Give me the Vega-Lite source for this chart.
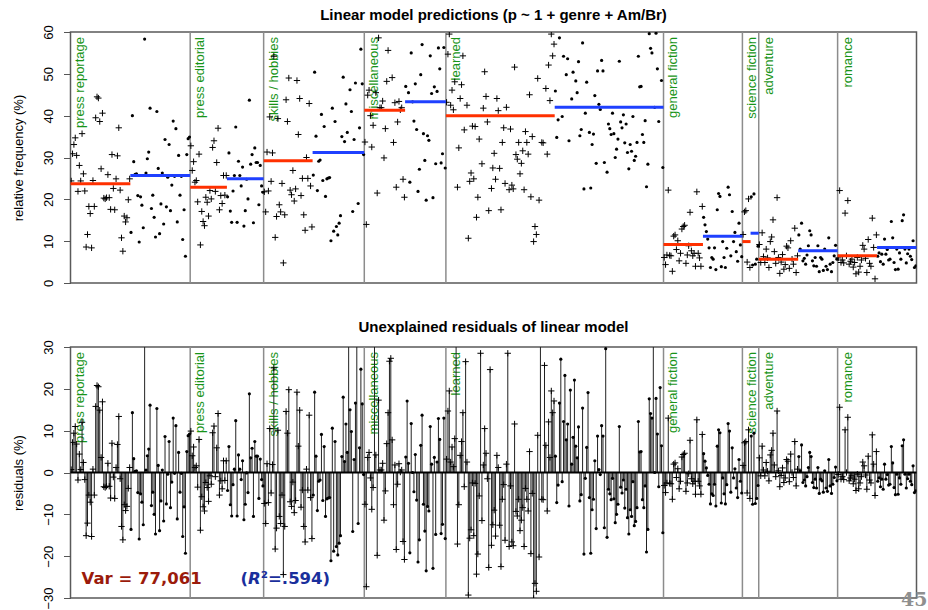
{
  "$schema": "https://vega.github.io/schema/vega-lite/v6.json",
  "background": "white",
  "padding": {"left": 11.5, "top": 7, "right": 0, "bottom": 0},
  "config": {
    "font": "Liberation Sans",
    "view": {"stroke": "#5a5a5a", "strokeWidth": 1.5},
    "title": {"font": "Liberation Sans", "fontSize": 15, "fontWeight": "bold", "color": "black", "anchor": "middle", "baseline": "alphabetic"},
    "axisY": {
      "labelAngle": 270, "labelAlign": "center", "labelBaseline": "alphabetic", "labelPadding": 11,
      "labelFontSize": 13, "labelColor": "black", "labelOverlap": false, "labelFlush": false,
      "tickSize": 7, "tickColor": "#555555", "tickWidth": 1, "domain": false, "grid": false,
      "titleFontSize": 13, "titleFontWeight": "normal", "titleColor": "black",
      "titleAngle": 270, "titleBaseline": "middle", "titleAlign": "center", "titleX": -52, "titleY": 125.5
    }
  },
  "datasets": {
    "genres": [
      {"g": "pr", "name": "press reportage", "fitAm": 23.7, "fitBr": 25.7},
      {"g": "pe", "name": "press editorial", "fitAm": 22.9, "fitBr": 24.9},
      {"g": "sk", "name": "skills / hobbies", "fitAm": 29.2, "fitBr": 31.2},
      {"g": "mi", "name": "miscellaneous", "fitAm": 41.3, "fitBr": 43.3},
      {"g": "le", "name": "learned", "fitAm": 40.0, "fitBr": 42.0},
      {"g": "gf", "name": "general fiction", "fitAm": 9.2, "fitBr": 11.2},
      {"g": "sf", "name": "science fiction", "fitAm": 9.9, "fitBr": 11.9},
      {"g": "ad", "name": "adventure", "fitAm": 5.7, "fitBr": 7.7},
      {"g": "ro", "name": "romance", "fitAm": 6.5, "fitBr": 8.5}
    ],
    "notes": [{"var": "Var = 77,061", "open": "(", "r": "R", "rest": "²=.594)", "page": "45"}],
    "texts": [
      {"i":1,"g":"pr","v":"Am","y":24.4},{"i":2,"g":"pr","v":"Am","y":30.9},{"i":3,"g":"pr","v":"Am","y":33.1},{"i":4,"g":"pr","v":"Am","y":34.7},{"i":5,"g":"pr","v":"Am","y":30.5},{"i":6,"g":"pr","v":"Am","y":21.9},{"i":7,"g":"pr","v":"Am","y":28.1},{"i":8,"g":"pr","v":"Am","y":24.4},{"i":9,"g":"pr","v":"Am","y":35.7},{"i":10,"g":"pr","v":"Am","y":26.1},
      {"i":11,"g":"pr","v":"Am","y":22.0},{"i":12,"g":"pr","v":"Am","y":8.6},{"i":13,"g":"pr","v":"Am","y":11.6},{"i":14,"g":"pr","v":"Am","y":18.3},{"i":15,"g":"pr","v":"Am","y":16.6},{"i":16,"g":"pr","v":"Am","y":8.4},{"i":17,"g":"pr","v":"Am","y":24.5},{"i":18,"g":"pr","v":"Am","y":18.3},{"i":19,"g":"pr","v":"Am","y":39.5},{"i":20,"g":"pr","v":"Am","y":44.5},
      {"i":21,"g":"pr","v":"Am","y":44.2},{"i":22,"g":"pr","v":"Am","y":38.6},{"i":23,"g":"pr","v":"Am","y":27.3},{"i":24,"g":"pr","v":"Am","y":40.6},{"i":25,"g":"pr","v":"Am","y":20.3},{"i":26,"g":"pr","v":"Am","y":20.1},{"i":27,"g":"pr","v":"Am","y":20.4},{"i":28,"g":"pr","v":"Am","y":25.9},{"i":29,"g":"pr","v":"Am","y":20.4},{"i":30,"g":"pr","v":"Am","y":17.6},
      {"i":31,"g":"pr","v":"Am","y":30.7},{"i":32,"g":"pr","v":"Am","y":22.6},{"i":33,"g":"pr","v":"Am","y":17.5},{"i":34,"g":"pr","v":"Am","y":24.9},{"i":35,"g":"pr","v":"Am","y":30.4},{"i":36,"g":"pr","v":"Am","y":37.1},{"i":37,"g":"pr","v":"Am","y":22.2},{"i":38,"g":"pr","v":"Am","y":10.8},{"i":39,"g":"pr","v":"Am","y":7.6},{"i":40,"g":"pr","v":"Am","y":16.0},
      {"i":41,"g":"pr","v":"Am","y":14.6},{"i":42,"g":"pr","v":"Am","y":15.6},{"i":43,"g":"pr","v":"Am","y":19.9},{"i":44,"g":"pr","v":"Am","y":24.9},
      {"i":45,"g":"pr","v":"Br","y":12.1},{"i":46,"g":"pr","v":"Br","y":40.0},{"i":47,"g":"pr","v":"Br","y":29.0},{"i":48,"g":"pr","v":"Br","y":26.0},{"i":49,"g":"pr","v":"Br","y":26.1},{"i":50,"g":"pr","v":"Br","y":20.9},{"i":51,"g":"pr","v":"Br","y":9.8},{"i":52,"g":"pr","v":"Br","y":20.6},{"i":53,"g":"pr","v":"Br","y":18.6},{"i":54,"g":"pr","v":"Br","y":13.2},
      {"i":55,"g":"pr","v":"Br","y":58.3},{"i":56,"g":"pr","v":"Br","y":26.3},{"i":57,"g":"pr","v":"Br","y":29.7},{"i":58,"g":"pr","v":"Br","y":31.3},{"i":59,"g":"pr","v":"Br","y":41.8},{"i":60,"g":"pr","v":"Br","y":17.8},{"i":61,"g":"pr","v":"Br","y":21.0},{"i":62,"g":"pr","v":"Br","y":15.7},{"i":63,"g":"pr","v":"Br","y":11.0},{"i":64,"g":"pr","v":"Br","y":41.0},
      {"i":65,"g":"pr","v":"Br","y":27.4},{"i":66,"g":"pr","v":"Br","y":11.8},{"i":67,"g":"pr","v":"Br","y":18.9},{"i":68,"g":"pr","v":"Br","y":26.3},{"i":69,"g":"pr","v":"Br","y":14.1},{"i":70,"g":"pr","v":"Br","y":34.3},{"i":71,"g":"pr","v":"Br","y":18.2},{"i":72,"g":"pr","v":"Br","y":25.3},{"i":73,"g":"pr","v":"Br","y":33.1},{"i":74,"g":"pr","v":"Br","y":17.3},
      {"i":75,"g":"pr","v":"Br","y":23.4},{"i":76,"g":"pr","v":"Br","y":38.7},{"i":77,"g":"pr","v":"Br","y":25.5},{"i":78,"g":"pr","v":"Br","y":36.9},{"i":79,"g":"pr","v":"Br","y":14.6},{"i":80,"g":"pr","v":"Br","y":30.5},{"i":81,"g":"pr","v":"Br","y":21.0},{"i":82,"g":"pr","v":"Br","y":25.5},{"i":83,"g":"pr","v":"Br","y":10.4},{"i":84,"g":"pr","v":"Br","y":17.5},
      {"i":85,"g":"pr","v":"Br","y":6.4},{"i":86,"g":"pr","v":"Br","y":30.7},{"i":87,"g":"pr","v":"Br","y":34.5},{"i":88,"g":"pr","v":"Br","y":34.9},
      {"i":89,"g":"pe","v":"Am","y":32.8},{"i":90,"g":"pe","v":"Am","y":26.9},{"i":91,"g":"pe","v":"Am","y":29.0},{"i":92,"g":"pe","v":"Am","y":24.1},{"i":93,"g":"pe","v":"Am","y":24.5},{"i":94,"g":"pe","v":"Am","y":19.4},{"i":95,"g":"pe","v":"Am","y":30.8},{"i":96,"g":"pe","v":"Am","y":9.1},{"i":97,"g":"pe","v":"Am","y":17.1},{"i":98,"g":"pe","v":"Am","y":14.7},
      {"i":99,"g":"pe","v":"Am","y":13.7},{"i":100,"g":"pe","v":"Am","y":20.5},{"i":101,"g":"pe","v":"Am","y":19.3},{"i":102,"g":"pe","v":"Am","y":16.0},{"i":103,"g":"pe","v":"Am","y":22.1},{"i":104,"g":"pe","v":"Am","y":20.1},{"i":105,"g":"pe","v":"Am","y":32.4},{"i":106,"g":"pe","v":"Am","y":34.0},{"i":107,"g":"pe","v":"Am","y":21.9},{"i":108,"g":"pe","v":"Am","y":28.8},
      {"i":109,"g":"pe","v":"Am","y":37.0},{"i":110,"g":"pe","v":"Am","y":17.5},{"i":111,"g":"pe","v":"Am","y":20.9},{"i":112,"g":"pe","v":"Am","y":19.0},{"i":113,"g":"pe","v":"Am","y":25.7},{"i":114,"g":"pe","v":"Am","y":21.0},{"i":115,"g":"pe","v":"Am","y":25.7},
      {"i":116,"g":"pe","v":"Br","y":20.6},{"i":117,"g":"pe","v":"Br","y":31.1},{"i":118,"g":"pe","v":"Br","y":17.2},{"i":119,"g":"pe","v":"Br","y":14.5},{"i":120,"g":"pe","v":"Br","y":22.0},{"i":121,"g":"pe","v":"Br","y":25.7},{"i":122,"g":"pe","v":"Br","y":37.3},{"i":123,"g":"pe","v":"Br","y":14.5},{"i":124,"g":"pe","v":"Br","y":29.1},{"i":125,"g":"pe","v":"Br","y":25.7},
      {"i":126,"g":"pe","v":"Br","y":23.2},{"i":127,"g":"pe","v":"Br","y":27.7},{"i":128,"g":"pe","v":"Br","y":13.6},{"i":129,"g":"pe","v":"Br","y":17.3},{"i":130,"g":"pe","v":"Br","y":24.8},{"i":131,"g":"pe","v":"Br","y":20.1},{"i":132,"g":"pe","v":"Br","y":43.7},{"i":133,"g":"pe","v":"Br","y":28.4},{"i":134,"g":"pe","v":"Br","y":30.7},{"i":135,"g":"pe","v":"Br","y":14.4},
      {"i":136,"g":"pe","v":"Br","y":32.3},{"i":137,"g":"pe","v":"Br","y":28.8},{"i":138,"g":"pe","v":"Br","y":28.8},{"i":139,"g":"pe","v":"Br","y":18.7},{"i":140,"g":"pe","v":"Br","y":28.1},{"i":141,"g":"pe","v":"Br","y":23.2},{"i":142,"g":"pe","v":"Br","y":21.7},
      {"i":143,"g":"sk","v":"Am","y":21.8},{"i":144,"g":"sk","v":"Am","y":17.0},{"i":145,"g":"sk","v":"Am","y":31.3},{"i":146,"g":"sk","v":"Am","y":22.0},{"i":147,"g":"sk","v":"Am","y":39.7},{"i":148,"g":"sk","v":"Am","y":24.3},{"i":149,"g":"sk","v":"Am","y":31.1},{"i":150,"g":"sk","v":"Am","y":54.2},{"i":151,"g":"sk","v":"Am","y":10.9},{"i":152,"g":"sk","v":"Am","y":15.9},
      {"i":153,"g":"sk","v":"Am","y":39.3},{"i":154,"g":"sk","v":"Am","y":18.7},{"i":155,"g":"sk","v":"Am","y":17.0},{"i":156,"g":"sk","v":"Am","y":23.8},{"i":157,"g":"sk","v":"Am","y":4.8},{"i":158,"g":"sk","v":"Am","y":16.3},{"i":159,"g":"sk","v":"Am","y":43.8},{"i":160,"g":"sk","v":"Am","y":38.6},{"i":161,"g":"sk","v":"Am","y":49.0},{"i":162,"g":"sk","v":"Am","y":22.2},
      {"i":163,"g":"sk","v":"Am","y":21.1},{"i":164,"g":"sk","v":"Am","y":26.9},{"i":165,"g":"sk","v":"Am","y":19.6},{"i":166,"g":"sk","v":"Am","y":22.5},{"i":167,"g":"sk","v":"Am","y":48.4},{"i":168,"g":"sk","v":"Am","y":35.5},{"i":169,"g":"sk","v":"Am","y":44.1},{"i":170,"g":"sk","v":"Am","y":20.9},{"i":171,"g":"sk","v":"Am","y":25.0},{"i":172,"g":"sk","v":"Am","y":16.3},
      {"i":173,"g":"sk","v":"Am","y":12.6},{"i":174,"g":"sk","v":"Am","y":30.0},{"i":175,"g":"sk","v":"Am","y":25.0},{"i":176,"g":"sk","v":"Am","y":42.9},{"i":177,"g":"sk","v":"Am","y":23.2},{"i":178,"g":"sk","v":"Am","y":13.4},
      {"i":179,"g":"sk","v":"Br","y":25.8},{"i":180,"g":"sk","v":"Br","y":50.4},{"i":181,"g":"sk","v":"Br","y":35.1},{"i":182,"g":"sk","v":"Br","y":22.1},{"i":183,"g":"sk","v":"Br","y":29.1},{"i":184,"g":"sk","v":"Br","y":29.4},{"i":185,"g":"sk","v":"Br","y":40.3},{"i":186,"g":"sk","v":"Br","y":24.5},{"i":187,"g":"sk","v":"Br","y":37.4},{"i":188,"g":"sk","v":"Br","y":20.7},
      {"i":189,"g":"sk","v":"Br","y":24.9},{"i":190,"g":"sk","v":"Br","y":25.1},{"i":191,"g":"sk","v":"Br","y":25.2},{"i":192,"g":"sk","v":"Br","y":10.1},{"i":193,"g":"sk","v":"Br","y":41.8},{"i":194,"g":"sk","v":"Br","y":12.4},{"i":195,"g":"sk","v":"Br","y":38.6},{"i":196,"g":"sk","v":"Br","y":13.5},{"i":197,"g":"sk","v":"Br","y":11.5},{"i":198,"g":"sk","v":"Br","y":14.3},
      {"i":199,"g":"sk","v":"Br","y":16.1},{"i":200,"g":"sk","v":"Br","y":35.0},{"i":201,"g":"sk","v":"Br","y":49.2},{"i":202,"g":"sk","v":"Br","y":33.8},{"i":203,"g":"sk","v":"Br","y":42.8},{"i":204,"g":"sk","v":"Br","y":36.0},{"i":205,"g":"sk","v":"Br","y":64.0},{"i":206,"g":"sk","v":"Br","y":46.2},{"i":207,"g":"sk","v":"Br","y":41.0},{"i":208,"g":"sk","v":"Br","y":17.1},
      {"i":209,"g":"sk","v":"Br","y":34.3},{"i":210,"g":"sk","v":"Br","y":47.8},{"i":211,"g":"sk","v":"Br","y":66.0},{"i":212,"g":"sk","v":"Br","y":19.0},{"i":213,"g":"sk","v":"Br","y":37.1},{"i":214,"g":"sk","v":"Br","y":55.9},{"i":215,"g":"sk","v":"Br","y":47.6},{"i":216,"g":"sk","v":"Br","y":30.7},
      {"i":217,"g":"mi","v":"Am","y":33.7},{"i":218,"g":"mi","v":"Am","y":14.0},{"i":219,"g":"mi","v":"Am","y":44.9},{"i":220,"g":"mi","v":"Am","y":46.1},{"i":221,"g":"mi","v":"Am","y":40.0},{"i":222,"g":"mi","v":"Am","y":32.5},{"i":223,"g":"mi","v":"Am","y":37.7},{"i":224,"g":"mi","v":"Am","y":72.0},{"i":225,"g":"mi","v":"Am","y":45.5},{"i":226,"g":"mi","v":"Am","y":21.5},
      {"i":227,"g":"mi","v":"Am","y":58.6},{"i":228,"g":"mi","v":"Am","y":41.9},{"i":229,"g":"mi","v":"Am","y":41.9},{"i":230,"g":"mi","v":"Am","y":43.5},{"i":231,"g":"mi","v":"Am","y":29.9},{"i":232,"g":"mi","v":"Am","y":36.9},{"i":233,"g":"mi","v":"Am","y":48.2},{"i":234,"g":"mi","v":"Am","y":55.6},{"i":235,"g":"mi","v":"Am","y":67.9},{"i":236,"g":"mi","v":"Am","y":68.6},
      {"i":237,"g":"mi","v":"Am","y":49.1},{"i":238,"g":"mi","v":"Am","y":33.6},{"i":239,"g":"mi","v":"Am","y":43.1},{"i":240,"g":"mi","v":"Am","y":22.9},{"i":241,"g":"mi","v":"Am","y":38.5},{"i":242,"g":"mi","v":"Am","y":43.4},{"i":243,"g":"mi","v":"Am","y":41.4},{"i":244,"g":"mi","v":"Am","y":41.9},{"i":245,"g":"mi","v":"Am","y":24.8},{"i":246,"g":"mi","v":"Am","y":20.5},
      {"i":247,"g":"mi","v":"Br","y":47.0},{"i":248,"g":"mi","v":"Br","y":60.4},{"i":249,"g":"mi","v":"Br","y":45.5},{"i":250,"g":"mi","v":"Br","y":24.1},{"i":251,"g":"mi","v":"Br","y":55.0},{"i":252,"g":"mi","v":"Br","y":43.3},{"i":253,"g":"mi","v":"Br","y":38.7},{"i":254,"g":"mi","v":"Br","y":47.6},{"i":255,"g":"mi","v":"Br","y":36.7},{"i":256,"g":"mi","v":"Br","y":21.9},
      {"i":257,"g":"mi","v":"Br","y":27.2},{"i":258,"g":"mi","v":"Br","y":49.8},{"i":259,"g":"mi","v":"Br","y":57.0},{"i":260,"g":"mi","v":"Br","y":35.7},{"i":261,"g":"mi","v":"Br","y":29.3},{"i":262,"g":"mi","v":"Br","y":19.8},{"i":263,"g":"mi","v":"Br","y":35.2},{"i":264,"g":"mi","v":"Br","y":34.1},{"i":265,"g":"mi","v":"Br","y":54.3},{"i":266,"g":"mi","v":"Br","y":45.3},
      {"i":267,"g":"mi","v":"Br","y":20.4},{"i":268,"g":"mi","v":"Br","y":46.9},{"i":269,"g":"mi","v":"Br","y":28.5},{"i":270,"g":"mi","v":"Br","y":45.8},{"i":271,"g":"mi","v":"Br","y":56.2},{"i":272,"g":"mi","v":"Br","y":51.2},{"i":273,"g":"mi","v":"Br","y":28.7},{"i":274,"g":"mi","v":"Br","y":30.9},{"i":275,"g":"mi","v":"Br","y":56.3},{"i":276,"g":"mi","v":"Br","y":27.5},
      {"i":277,"g":"le","v":"Am","y":43.2},{"i":278,"g":"le","v":"Am","y":54.7},{"i":279,"g":"le","v":"Am","y":59.5},{"i":280,"g":"le","v":"Am","y":42.5},{"i":281,"g":"le","v":"Am","y":46.1},{"i":282,"g":"le","v":"Am","y":41.4},{"i":283,"g":"le","v":"Am","y":48.1},{"i":284,"g":"le","v":"Am","y":75.0},{"i":285,"g":"le","v":"Am","y":22.9},{"i":286,"g":"le","v":"Am","y":32.3},
      {"i":287,"g":"le","v":"Am","y":44.1},{"i":288,"g":"le","v":"Am","y":47.4},{"i":289,"g":"le","v":"Am","y":54.3},{"i":290,"g":"le","v":"Am","y":36.6},{"i":291,"g":"le","v":"Am","y":66.5},{"i":292,"g":"le","v":"Am","y":42.5},{"i":293,"g":"le","v":"Am","y":10.7},{"i":294,"g":"le","v":"Am","y":24.3},{"i":295,"g":"le","v":"Am","y":26.3},{"i":296,"g":"le","v":"Am","y":37.5},
      {"i":297,"g":"le","v":"Am","y":24.9},{"i":298,"g":"le","v":"Am","y":37.4},{"i":299,"g":"le","v":"Am","y":15.7},{"i":300,"g":"le","v":"Am","y":20.5},{"i":301,"g":"le","v":"Am","y":34.4},{"i":302,"g":"le","v":"Am","y":68.5},{"i":303,"g":"le","v":"Am","y":28.5},{"i":304,"g":"le","v":"Am","y":41.8},{"i":305,"g":"le","v":"Am","y":50.5},{"i":306,"g":"le","v":"Am","y":44.6},
      {"i":307,"g":"le","v":"Am","y":38.5},{"i":308,"g":"le","v":"Am","y":17.3},{"i":309,"g":"le","v":"Am","y":64.6},{"i":310,"g":"le","v":"Am","y":22.6},{"i":311,"g":"le","v":"Am","y":27.5},{"i":312,"g":"le","v":"Am","y":31.0},{"i":313,"g":"le","v":"Am","y":24.8},{"i":314,"g":"le","v":"Am","y":44.1},{"i":315,"g":"le","v":"Am","y":41.2},{"i":316,"g":"le","v":"Am","y":27.4},
      {"i":317,"g":"le","v":"Am","y":17.5},{"i":318,"g":"le","v":"Am","y":33.6},{"i":319,"g":"le","v":"Am","y":37.1},{"i":320,"g":"le","v":"Am","y":23.8},{"i":321,"g":"le","v":"Am","y":42.0},{"i":322,"g":"le","v":"Am","y":68.5},{"i":323,"g":"le","v":"Am","y":22.3},{"i":324,"g":"le","v":"Am","y":36.8},{"i":325,"g":"le","v":"Am","y":23.4},{"i":326,"g":"le","v":"Am","y":22.5},
      {"i":327,"g":"le","v":"Am","y":51.6},{"i":328,"g":"le","v":"Am","y":30.7},{"i":329,"g":"le","v":"Am","y":29.6},{"i":330,"g":"le","v":"Am","y":33.6},{"i":331,"g":"le","v":"Am","y":26.1},{"i":332,"g":"le","v":"Am","y":28.6},{"i":333,"g":"le","v":"Am","y":31.6},{"i":334,"g":"le","v":"Am","y":22.3},{"i":335,"g":"le","v":"Am","y":36.2},{"i":336,"g":"le","v":"Am","y":33.6},
      {"i":337,"g":"le","v":"Am","y":30.8},{"i":338,"g":"le","v":"Am","y":45.0},{"i":339,"g":"le","v":"Am","y":20.6},{"i":340,"g":"le","v":"Am","y":35.0},{"i":341,"g":"le","v":"Am","y":9.9},{"i":342,"g":"le","v":"Am","y":13.5},{"i":343,"g":"le","v":"Am","y":11.6},{"i":344,"g":"le","v":"Am","y":48.9},{"i":345,"g":"le","v":"Am","y":19.8},{"i":346,"g":"le","v":"Am","y":72.0},
      {"i":347,"g":"le","v":"Am","y":33.6},{"i":348,"g":"le","v":"Am","y":33.5},{"i":349,"g":"le","v":"Am","y":65.6},{"i":350,"g":"le","v":"Am","y":46.5},{"i":351,"g":"le","v":"Am","y":30.8},{"i":352,"g":"le","v":"Am","y":52.1},{"i":353,"g":"le","v":"Am","y":43.6},{"i":354,"g":"le","v":"Am","y":59.5},{"i":355,"g":"le","v":"Am","y":54.3},{"i":356,"g":"le","v":"Am","y":57.1},
      {"i":357,"g":"le","v":"Br","y":45.9},{"i":358,"g":"le","v":"Br","y":34.8},{"i":359,"g":"le","v":"Br","y":39.0},{"i":360,"g":"le","v":"Br","y":58.6},{"i":361,"g":"le","v":"Br","y":69.1},{"i":362,"g":"le","v":"Br","y":39.8},{"i":363,"g":"le","v":"Br","y":54.2},{"i":364,"g":"le","v":"Br","y":65.2},{"i":365,"g":"le","v":"Br","y":49.8},{"i":366,"g":"le","v":"Br","y":53.6},
      {"i":367,"g":"le","v":"Br","y":34.0},{"i":368,"g":"le","v":"Br","y":61.7},{"i":369,"g":"le","v":"Br","y":44.0},{"i":370,"g":"le","v":"Br","y":50.4},{"i":371,"g":"le","v":"Br","y":64.1},{"i":372,"g":"le","v":"Br","y":48.3},{"i":373,"g":"le","v":"Br","y":45.5},{"i":374,"g":"le","v":"Br","y":52.9},{"i":375,"g":"le","v":"Br","y":35.2},{"i":376,"g":"le","v":"Br","y":36.7},
      {"i":377,"g":"le","v":"Br","y":57.4},{"i":378,"g":"le","v":"Br","y":22.5},{"i":379,"g":"le","v":"Br","y":40.6},{"i":380,"g":"le","v":"Br","y":48.0},{"i":381,"g":"le","v":"Br","y":61.1},{"i":382,"g":"le","v":"Br","y":36.0},{"i":383,"g":"le","v":"Br","y":22.7},{"i":384,"g":"le","v":"Br","y":33.1},{"i":385,"g":"le","v":"Br","y":35.6},{"i":386,"g":"le","v":"Br","y":44.8},
      {"i":387,"g":"le","v":"Br","y":28.6},{"i":388,"g":"le","v":"Br","y":50.7},{"i":389,"g":"le","v":"Br","y":42.7},{"i":390,"g":"le","v":"Br","y":41.5},{"i":391,"g":"le","v":"Br","y":53.2},{"i":392,"g":"le","v":"Br","y":50.7},{"i":393,"g":"le","v":"Br","y":28.8},{"i":394,"g":"le","v":"Br","y":71.6},{"i":395,"g":"le","v":"Br","y":26.5},{"i":396,"g":"le","v":"Br","y":38.0},
      {"i":397,"g":"le","v":"Br","y":36.9},{"i":398,"g":"le","v":"Br","y":35.5},{"i":399,"g":"le","v":"Br","y":40.6},{"i":400,"g":"le","v":"Br","y":35.7},{"i":401,"g":"le","v":"Br","y":30.0},{"i":402,"g":"le","v":"Br","y":32.0},{"i":403,"g":"le","v":"Br","y":34.4},{"i":404,"g":"le","v":"Br","y":53.0},{"i":405,"g":"le","v":"Br","y":38.5},{"i":406,"g":"le","v":"Br","y":37.1},
      {"i":407,"g":"le","v":"Br","y":40.2},{"i":408,"g":"le","v":"Br","y":33.5},{"i":409,"g":"le","v":"Br","y":38.0},{"i":410,"g":"le","v":"Br","y":31.2},{"i":411,"g":"le","v":"Br","y":27.3},{"i":412,"g":"le","v":"Br","y":33.1},{"i":413,"g":"le","v":"Br","y":31.5},{"i":414,"g":"le","v":"Br","y":39.8},{"i":415,"g":"le","v":"Br","y":29.3},{"i":416,"g":"le","v":"Br","y":30.3},
      {"i":417,"g":"le","v":"Br","y":33.6},{"i":418,"g":"le","v":"Br","y":54.2},{"i":419,"g":"le","v":"Br","y":46.9},{"i":420,"g":"le","v":"Br","y":47.0},{"i":421,"g":"le","v":"Br","y":35.5},{"i":422,"g":"le","v":"Br","y":33.6},{"i":423,"g":"le","v":"Br","y":38.8},{"i":424,"g":"le","v":"Br","y":23.0},{"i":425,"g":"le","v":"Br","y":28.4},{"i":426,"g":"le","v":"Br","y":59.6},
      {"i":427,"g":"le","v":"Br","y":56.1},{"i":428,"g":"le","v":"Br","y":55.0},{"i":429,"g":"le","v":"Br","y":74.0},{"i":430,"g":"le","v":"Br","y":42.0},{"i":431,"g":"le","v":"Br","y":59.7},{"i":432,"g":"le","v":"Br","y":51.2},{"i":433,"g":"le","v":"Br","y":38.6},{"i":434,"g":"le","v":"Br","y":62.3},{"i":435,"g":"le","v":"Br","y":48.4},{"i":436,"g":"le","v":"Br","y":27.6},
      {"i":437,"g":"gf","v":"Am","y":6.1},{"i":438,"g":"gf","v":"Am","y":4.4},{"i":439,"g":"gf","v":"Am","y":6.7},{"i":440,"g":"gf","v":"Am","y":22.2},{"i":441,"g":"gf","v":"Am","y":6.6},{"i":442,"g":"gf","v":"Am","y":6.5},{"i":443,"g":"gf","v":"Am","y":2.8},{"i":444,"g":"gf","v":"Am","y":11.2},{"i":445,"g":"gf","v":"Am","y":11.5},{"i":446,"g":"gf","v":"Am","y":8.0},
      {"i":447,"g":"gf","v":"Am","y":10.1},{"i":448,"g":"gf","v":"Am","y":5.3},{"i":449,"g":"gf","v":"Am","y":7.1},{"i":450,"g":"gf","v":"Am","y":12.9},{"i":451,"g":"gf","v":"Am","y":13.5},{"i":452,"g":"gf","v":"Am","y":13.8},{"i":453,"g":"gf","v":"Am","y":4.7},{"i":454,"g":"gf","v":"Am","y":6.7},{"i":455,"g":"gf","v":"Am","y":8.9},{"i":456,"g":"gf","v":"Am","y":16.9},
      {"i":457,"g":"gf","v":"Am","y":7.7},{"i":458,"g":"gf","v":"Am","y":6.5},{"i":459,"g":"gf","v":"Am","y":7.1},{"i":460,"g":"gf","v":"Am","y":4.0},{"i":461,"g":"gf","v":"Am","y":21.8},{"i":462,"g":"gf","v":"Am","y":7.1},{"i":463,"g":"gf","v":"Am","y":6.0},{"i":464,"g":"gf","v":"Am","y":4.0},{"i":465,"g":"gf","v":"Am","y":18.3},
      {"i":466,"g":"gf","v":"Br","y":15.7},{"i":467,"g":"gf","v":"Br","y":13.9},{"i":468,"g":"gf","v":"Br","y":12.3},{"i":469,"g":"gf","v":"Br","y":10.5},{"i":470,"g":"gf","v":"Br","y":8.4},{"i":471,"g":"gf","v":"Br","y":3.7},{"i":472,"g":"gf","v":"Br","y":6.1},{"i":473,"g":"gf","v":"Br","y":5.7},{"i":474,"g":"gf","v":"Br","y":8.4},{"i":475,"g":"gf","v":"Br","y":3.2},
      {"i":476,"g":"gf","v":"Br","y":17.5},{"i":477,"g":"gf","v":"Br","y":21.4},{"i":478,"g":"gf","v":"Br","y":20.7},{"i":479,"g":"gf","v":"Br","y":3.9},{"i":480,"g":"gf","v":"Br","y":9.9},{"i":481,"g":"gf","v":"Br","y":6.1},{"i":482,"g":"gf","v":"Br","y":3.7},{"i":483,"g":"gf","v":"Br","y":8.3},{"i":484,"g":"gf","v":"Br","y":22.9},{"i":485,"g":"gf","v":"Br","y":21.1},
      {"i":486,"g":"gf","v":"Br","y":6.5},{"i":487,"g":"gf","v":"Br","y":17.1},{"i":488,"g":"gf","v":"Br","y":9.9},{"i":489,"g":"gf","v":"Br","y":12.1},{"i":490,"g":"gf","v":"Br","y":7.5},{"i":491,"g":"gf","v":"Br","y":5.2},{"i":492,"g":"gf","v":"Br","y":14.3},{"i":493,"g":"gf","v":"Br","y":9.1},{"i":494,"g":"gf","v":"Br","y":6.3},
      {"i":495,"g":"sf","v":"Am","y":11.6},{"i":496,"g":"sf","v":"Am","y":17.0},{"i":497,"g":"sf","v":"Am","y":17.3},{"i":498,"g":"sf","v":"Am","y":5.0},{"i":499,"g":"sf","v":"Am","y":20.1},{"i":500,"g":"sf","v":"Am","y":3.7},
      {"i":501,"g":"sf","v":"Br","y":20.6},{"i":502,"g":"sf","v":"Br","y":4.3},{"i":503,"g":"sf","v":"Br","y":21.3},{"i":504,"g":"sf","v":"Br","y":4.5},{"i":505,"g":"sf","v":"Br","y":5.7},{"i":506,"g":"sf","v":"Br","y":8.8},
      {"i":507,"g":"ad","v":"Am","y":9.2},{"i":508,"g":"ad","v":"Am","y":4.9},{"i":509,"g":"ad","v":"Am","y":12.0},{"i":510,"g":"ad","v":"Am","y":6.3},{"i":511,"g":"ad","v":"Am","y":4.9},{"i":512,"g":"ad","v":"Am","y":8.1},{"i":513,"g":"ad","v":"Am","y":6.0},{"i":514,"g":"ad","v":"Am","y":3.7},{"i":515,"g":"ad","v":"Am","y":9.9},{"i":516,"g":"ad","v":"Am","y":11.0},
      {"i":517,"g":"ad","v":"Am","y":15.1},{"i":518,"g":"ad","v":"Am","y":7.5},{"i":519,"g":"ad","v":"Am","y":4.7},{"i":520,"g":"ad","v":"Am","y":20.4},{"i":521,"g":"ad","v":"Am","y":6.1},{"i":522,"g":"ad","v":"Am","y":2.3},{"i":523,"g":"ad","v":"Am","y":5.0},{"i":524,"g":"ad","v":"Am","y":6.8},{"i":525,"g":"ad","v":"Am","y":3.3},{"i":526,"g":"ad","v":"Am","y":4.4},
      {"i":527,"g":"ad","v":"Am","y":8.8},{"i":528,"g":"ad","v":"Am","y":8.4},{"i":529,"g":"ad","v":"Am","y":3.5},{"i":530,"g":"ad","v":"Am","y":10.1},{"i":531,"g":"ad","v":"Am","y":5.7},{"i":532,"g":"ad","v":"Am","y":4.5},{"i":533,"g":"ad","v":"Am","y":13.1},{"i":534,"g":"ad","v":"Am","y":2.5},{"i":535,"g":"ad","v":"Am","y":6.5},
      {"i":536,"g":"ad","v":"Br","y":11.5},{"i":537,"g":"ad","v":"Br","y":8.1},{"i":538,"g":"ad","v":"Br","y":14.3},{"i":539,"g":"ad","v":"Br","y":5.3},{"i":540,"g":"ad","v":"Br","y":5.9},{"i":541,"g":"ad","v":"Br","y":4.5},{"i":542,"g":"ad","v":"Br","y":6.7},{"i":543,"g":"ad","v":"Br","y":8.9},{"i":544,"g":"ad","v":"Br","y":12.5},{"i":545,"g":"ad","v":"Br","y":11.5},
      {"i":546,"g":"ad","v":"Br","y":5.3},{"i":547,"g":"ad","v":"Br","y":4.1},{"i":548,"g":"ad","v":"Br","y":6.1},{"i":549,"g":"ad","v":"Br","y":4.0},{"i":550,"g":"ad","v":"Br","y":8.9},{"i":551,"g":"ad","v":"Br","y":2.7},{"i":552,"g":"ad","v":"Br","y":6.1},{"i":553,"g":"ad","v":"Br","y":5.7},{"i":554,"g":"ad","v":"Br","y":3.0},{"i":555,"g":"ad","v":"Br","y":8.1},
      {"i":556,"g":"ad","v":"Br","y":4.0},{"i":557,"g":"ad","v":"Br","y":3.2},{"i":558,"g":"ad","v":"Br","y":10.8},{"i":559,"g":"ad","v":"Br","y":4.5},{"i":560,"g":"ad","v":"Br","y":2.7},{"i":561,"g":"ad","v":"Br","y":4.9},{"i":562,"g":"ad","v":"Br","y":6.5},{"i":563,"g":"ad","v":"Br","y":9.0},{"i":564,"g":"ad","v":"Br","y":5.7},
      {"i":565,"g":"ro","v":"Am","y":6.0},{"i":566,"g":"ro","v":"Am","y":22.1},{"i":567,"g":"ro","v":"Am","y":4.9},{"i":568,"g":"ro","v":"Am","y":5.5},{"i":569,"g":"ro","v":"Am","y":4.8},{"i":570,"g":"ro","v":"Am","y":16.7},{"i":571,"g":"ro","v":"Am","y":6.5},{"i":572,"g":"ro","v":"Am","y":19.7},{"i":573,"g":"ro","v":"Am","y":4.5},{"i":574,"g":"ro","v":"Am","y":5.2},
      {"i":575,"g":"ro","v":"Am","y":5.7},{"i":576,"g":"ro","v":"Am","y":3.8},{"i":577,"g":"ro","v":"Am","y":4.9},{"i":578,"g":"ro","v":"Am","y":2.2},{"i":579,"g":"ro","v":"Am","y":6.1},{"i":580,"g":"ro","v":"Am","y":2.6},{"i":581,"g":"ro","v":"Am","y":4.0},{"i":582,"g":"ro","v":"Am","y":5.5},{"i":583,"g":"ro","v":"Am","y":9.0},{"i":584,"g":"ro","v":"Am","y":8.1},
      {"i":585,"g":"ro","v":"Am","y":5.9},{"i":586,"g":"ro","v":"Am","y":2.5},{"i":587,"g":"ro","v":"Am","y":10.4},{"i":588,"g":"ro","v":"Am","y":4.7},{"i":589,"g":"ro","v":"Am","y":4.0},{"i":590,"g":"ro","v":"Am","y":15.5},{"i":591,"g":"ro","v":"Am","y":8.5},{"i":592,"g":"ro","v":"Am","y":1.0},{"i":593,"g":"ro","v":"Am","y":11.5},
      {"i":594,"g":"ro","v":"Br","y":6.4},{"i":595,"g":"ro","v":"Br","y":7.2},{"i":596,"g":"ro","v":"Br","y":5.1},{"i":597,"g":"ro","v":"Br","y":6.9},{"i":598,"g":"ro","v":"Br","y":4.5},{"i":599,"g":"ro","v":"Br","y":10.5},{"i":600,"g":"ro","v":"Br","y":6.9},{"i":601,"g":"ro","v":"Br","y":8.0},{"i":602,"g":"ro","v":"Br","y":5.5},{"i":603,"g":"ro","v":"Br","y":5.7},
      {"i":604,"g":"ro","v":"Br","y":14.7},{"i":605,"g":"ro","v":"Br","y":10.8},{"i":606,"g":"ro","v":"Br","y":4.9},{"i":607,"g":"ro","v":"Br","y":3.2},{"i":608,"g":"ro","v":"Br","y":8.1},{"i":609,"g":"ro","v":"Br","y":3.3},{"i":610,"g":"ro","v":"Br","y":7.2},{"i":611,"g":"ro","v":"Br","y":5.7},{"i":612,"g":"ro","v":"Br","y":14.9},{"i":613,"g":"ro","v":"Br","y":16.3},
      {"i":614,"g":"ro","v":"Br","y":8.1},{"i":615,"g":"ro","v":"Br","y":4.8},{"i":616,"g":"ro","v":"Br","y":7.0},{"i":617,"g":"ro","v":"Br","y":8.1},{"i":618,"g":"ro","v":"Br","y":6.4},{"i":619,"g":"ro","v":"Br","y":5.6},{"i":620,"g":"ro","v":"Br","y":10.1},{"i":621,"g":"ro","v":"Br","y":3.7},{"i":622,"g":"ro","v":"Br","y":4.1}
    ]
  },
  "data": {"name": "texts"},
  "transform": [
    {"lookup": "g", "from": {"data": {"name": "genres"}, "key": "g", "fields": ["name", "fitAm", "fitBr"]}},
    {"calculate": "datum.v === 'Am' ? datum.fitAm : datum.fitBr", "as": "fit"},
    {"calculate": "datum.y - datum.fit", "as": "r"}
  ],
  "spacing": 31,
  "vconcat": [
    {
      "width": 846,
      "height": 251,
      "title": {"text": "Linear model predictions (p ~ 1 + genre + Am/Br)", "offset": 2},
      "layer": [
        {
          "transform": [{"filter": "datum.g !== 'pr'"}],
          "mark": {"type": "rule", "color": "#8c8c8c", "strokeWidth": 1.5, "xOffset": -0.68},
          "encoding": {
            "x": {"aggregate": "min", "field": "i", "type": "quantitative", "scale": {"domain": [0.5, 622.5], "nice": false, "zero": false}, "axis": null},
            "detail": {"field": "g"}
          }
        },
        {
          "mark": {"type": "text", "angle": 270, "align": "right", "baseline": "alphabetic", "dx": -5, "dy": 13.3, "fontSize": 13, "color": "#189418"},
          "encoding": {
            "x": {"aggregate": "min", "field": "i", "type": "quantitative", "scale": {"domain": [0.5, 622.5], "nice": false, "zero": false}, "axis": null},
            "y": {"datum": 60},
            "text": {"field": "name"}
          }
        },
        {
          "transform": [{"filter": "datum.v === 'Am'"}],
          "mark": {"type": "point", "shape": "M-1,0H1M0,-1V1", "size": 40, "filled": false, "stroke": "black", "strokeWidth": 1, "opacity": 1, "clip": true},
          "encoding": {
            "x": {"field": "i", "type": "quantitative", "scale": {"domain": [0.5, 622.5], "nice": false, "zero": false}, "axis": null},
            "y": {"field": "y", "type": "quantitative", "scale": {"domain": [0, 60], "nice": false, "zero": false}, "axis": {"values": [0, 10, 20, 30, 40, 50, 60]}, "title": "relative frequency (%)"}
          }
        },
        {
          "transform": [{"filter": "datum.v === 'Br'"}],
          "mark": {"type": "circle", "size": 10, "color": "black", "opacity": 1, "clip": true},
          "encoding": {
            "x": {"field": "i", "type": "quantitative", "scale": {"domain": [0.5, 622.5], "nice": false, "zero": false}, "axis": null},
            "y": {"field": "y", "type": "quantitative", "scale": {"domain": [0, 60], "nice": false, "zero": false}, "title": "relative frequency (%)"}
          }
        },
        {
          "mark": {"type": "rule", "strokeWidth": 3, "xOffset": -0.68, "x2Offset": 0.68},
          "encoding": {
            "x": {"aggregate": "min", "field": "i", "type": "quantitative", "scale": {"domain": [0.5, 622.5], "nice": false, "zero": false}, "axis": null},
            "x2": {"aggregate": "max", "field": "i"},
            "y": {"aggregate": "mean", "field": "fit", "type": "quantitative", "scale": {"domain": [0, 60], "nice": false, "zero": false}, "title": "relative frequency (%)"},
            "color": {"field": "v", "type": "nominal", "scale": {"domain": ["Am", "Br"], "range": ["#ff3000", "#1f40ff"]}, "legend": null},
            "detail": {"field": "g"}
          }
        }
      ]
    },
    {
      "width": 846,
      "height": 251,
      "title": {"text": "Unexplained residuals of linear model", "offset": 4.5},
      "layer": [
        {
          "transform": [{"filter": "datum.g !== 'pr'"}],
          "mark": {"type": "rule", "color": "#8c8c8c", "strokeWidth": 1.5, "xOffset": -0.68},
          "encoding": {
            "x": {"aggregate": "min", "field": "i", "type": "quantitative", "scale": {"domain": [0.5, 622.5], "nice": false, "zero": false}, "axis": null},
            "detail": {"field": "g"}
          }
        },
        {
          "mark": {"type": "text", "angle": 270, "align": "right", "baseline": "alphabetic", "dx": -5, "dy": 13.3, "fontSize": 13, "color": "#189418"},
          "encoding": {
            "x": {"aggregate": "min", "field": "i", "type": "quantitative", "scale": {"domain": [0.5, 622.5], "nice": false, "zero": false}, "axis": null},
            "y": {"datum": 30},
            "text": {"field": "name"}
          }
        },
        {
          "mark": {"type": "rule", "color": "#222222", "strokeWidth": 1, "clip": true},
          "encoding": {
            "x": {"field": "i", "type": "quantitative", "scale": {"domain": [0.5, 622.5], "nice": false, "zero": false}, "axis": null},
            "y": {"field": "r", "type": "quantitative", "scale": {"domain": [-30, 30], "nice": false, "zero": false}, "axis": {"values": [-30, -20, -10, 0, 10, 20, 30]}, "title": "residuals (%)"},
            "y2": {"datum": 0}
          }
        },
        {
          "data": {"name": "notes"},
          "mark": {"type": "rule", "color": "black", "strokeWidth": 2},
          "encoding": {"y": {"datum": 0}}
        },
        {
          "transform": [{"filter": "datum.v === 'Am'"}],
          "mark": {"type": "point", "shape": "M-1,0H1M0,-1V1", "size": 40, "filled": false, "stroke": "black", "strokeWidth": 1, "opacity": 1, "clip": true},
          "encoding": {
            "x": {"field": "i", "type": "quantitative", "scale": {"domain": [0.5, 622.5], "nice": false, "zero": false}, "axis": null},
            "y": {"field": "r", "type": "quantitative", "scale": {"domain": [-30, 30], "nice": false, "zero": false}, "title": "residuals (%)"}
          }
        },
        {
          "transform": [{"filter": "datum.v === 'Br'"}],
          "mark": {"type": "circle", "size": 10, "color": "black", "opacity": 1, "clip": true},
          "encoding": {
            "x": {"field": "i", "type": "quantitative", "scale": {"domain": [0.5, 622.5], "nice": false, "zero": false}, "axis": null},
            "y": {"field": "r", "type": "quantitative", "scale": {"domain": [-30, 30], "nice": false, "zero": false}, "title": "residuals (%)"}
          }
        },
        {
          "data": {"name": "notes"},
          "mark": {"type": "text", "align": "left", "baseline": "alphabetic", "font": "DejaVu Sans", "fontWeight": "bold", "fontSize": 16.5, "color": "#9b1b0b"},
          "encoding": {"x": {"datum": 8.6, "axis": null}, "y": {"datum": -26.7}, "text": {"field": "var"}}
        },
        {
          "data": {"name": "notes"},
          "mark": {"type": "text", "align": "left", "baseline": "alphabetic", "font": "DejaVu Sans", "fontWeight": "bold", "fontSize": 16.5, "color": "#1a2f9c"},
          "encoding": {"x": {"datum": 125.5, "axis": null}, "y": {"datum": -26.7}, "text": {"field": "open"}}
        },
        {
          "data": {"name": "notes"},
          "mark": {"type": "text", "align": "left", "baseline": "alphabetic", "font": "DejaVu Sans", "fontWeight": "bold", "fontStyle": "italic", "fontSize": 16.5, "color": "#1a2f9c", "dx": 7.5},
          "encoding": {"x": {"datum": 125.5, "axis": null}, "y": {"datum": -26.7}, "text": {"field": "r"}}
        },
        {
          "data": {"name": "notes"},
          "mark": {"type": "text", "align": "left", "baseline": "alphabetic", "font": "DejaVu Sans", "fontWeight": "bold", "fontSize": 16.5, "color": "#1a2f9c", "dx": 20.3},
          "encoding": {"x": {"datum": 125.5, "axis": null}, "y": {"datum": -26.7}, "text": {"field": "rest"}}
        },
        {
          "data": {"name": "notes"},
          "mark": {"type": "text", "align": "right", "baseline": "alphabetic", "font": "DejaVu Serif", "fontWeight": "bold", "fontSize": 19, "color": "#8f8f8f"},
          "encoding": {"x": {"datum": 630.6, "axis": null}, "y": {"datum": -32}, "text": {"field": "page"}}
        }
      ]
    }
  ]
}
